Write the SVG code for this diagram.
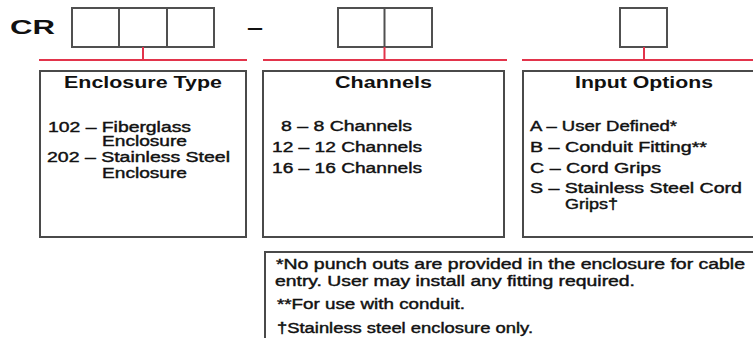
<svg xmlns="http://www.w3.org/2000/svg" width="753" height="338" viewBox="0 0 753 338">
<style>
.box{fill:#fff;stroke:#4a4a4a;stroke-width:2}
.slot{fill:#fff;stroke:#505050;stroke-width:2}
.red{stroke:#e2344b;stroke-width:2;fill:none}
.t{font-family:"Liberation Sans",Arial,sans-serif;font-size:14px;fill:#111;stroke:#111;stroke-width:0.4}
.h{font-family:"Liberation Sans",Arial,sans-serif;font-size:17px;font-weight:bold;fill:#111}
.cr{font-family:"Liberation Sans",Arial,sans-serif;font-size:20px;font-weight:bold;fill:#111}
</style>
<rect width="753" height="338" fill="#fff"/>
<g id="code">
<text class="cr" x="10" y="34" textLength="45" lengthAdjust="spacingAndGlyphs">CR</text>
<g id="slots-enclosure">
<rect class="slot" x="72" y="8" width="142" height="39"/>
<line class="slot" x1="119" y1="8" x2="119" y2="47"/>
<line class="slot" x1="167" y1="8" x2="167" y2="47"/>
</g>
<text class="cr" x="247" y="34" textLength="16" lengthAdjust="spacingAndGlyphs">–</text>
<g id="slots-channels">
<rect class="slot" x="338" y="8" width="94" height="39"/>
<line class="slot" x1="384.5" y1="8" x2="384.5" y2="47"/>
</g>
<g id="slots-input">
<rect class="slot" x="620" y="8" width="47" height="39"/>
</g>
</g>
<g id="connectors">
<line class="red" x1="39" y1="60" x2="247" y2="60"/>
<line class="red" x1="143" y1="47" x2="143" y2="60"/>
<line class="red" x1="263" y1="60" x2="507" y2="60"/>
<line class="red" x1="384.5" y1="47" x2="384.5" y2="60"/>
<line class="red" x1="522" y1="60" x2="760" y2="60"/>
<line class="red" x1="644" y1="47" x2="644" y2="60"/>
</g>
<g id="enclosure-type">
<rect class="box" x="40" y="71" width="206" height="166"/>
<text class="h" x="64" y="88" textLength="158" lengthAdjust="spacingAndGlyphs">Enclosure Type</text>
<text class="t" x="48" y="132" textLength="143" lengthAdjust="spacingAndGlyphs">102 – Fiberglass</text>
<text class="t" x="102" y="146" textLength="85" lengthAdjust="spacingAndGlyphs">Enclosure</text>
<text class="t" x="47" y="162" textLength="183" lengthAdjust="spacingAndGlyphs">202 – Stainless Steel</text>
<text class="t" x="102" y="178" textLength="85" lengthAdjust="spacingAndGlyphs">Enclosure</text>
</g>
<g id="channels">
<rect class="box" x="263" y="71" width="241" height="166"/>
<text class="h" x="335" y="88" textLength="97" lengthAdjust="spacingAndGlyphs">Channels</text>
<text class="t" x="281" y="131" textLength="131" lengthAdjust="spacingAndGlyphs">8 – 8 Channels</text>
<text class="t" x="272" y="152" textLength="150" lengthAdjust="spacingAndGlyphs">12 – 12 Channels</text>
<text class="t" x="272" y="173" textLength="150" lengthAdjust="spacingAndGlyphs">16 – 16 Channels</text>
</g>
<g id="input-options">
<rect class="box" x="523" y="71" width="250" height="166"/>
<text class="h" x="575" y="88" textLength="138" lengthAdjust="spacingAndGlyphs">Input Options</text>
<text class="t" x="530" y="131" textLength="147" lengthAdjust="spacingAndGlyphs">A – User Defined*</text>
<text class="t" x="530" y="152" textLength="177" lengthAdjust="spacingAndGlyphs">B – Conduit Fitting**</text>
<text class="t" x="530" y="173" textLength="131" lengthAdjust="spacingAndGlyphs">C – Cord Grips</text>
<text class="t" x="530" y="193" textLength="212" lengthAdjust="spacingAndGlyphs">S – Stainless Steel Cord</text>
<text class="t" x="565" y="209" textLength="53" lengthAdjust="spacingAndGlyphs">Grips†</text>
</g>
<g id="footnotes">
<rect class="box" x="265" y="252" width="510" height="110"/>
<text class="t" x="276" y="269" textLength="469" lengthAdjust="spacingAndGlyphs">*No punch outs are provided in the enclosure for cable</text>
<text class="t" x="275" y="286" textLength="360" lengthAdjust="spacingAndGlyphs">entry. User may install any fitting required.</text>
<text class="t" x="277" y="309" textLength="188" lengthAdjust="spacingAndGlyphs">**For use with conduit.</text>
<text class="t" x="277" y="333" textLength="256" lengthAdjust="spacingAndGlyphs">†Stainless steel enclosure only.</text>
</g>
</svg>
